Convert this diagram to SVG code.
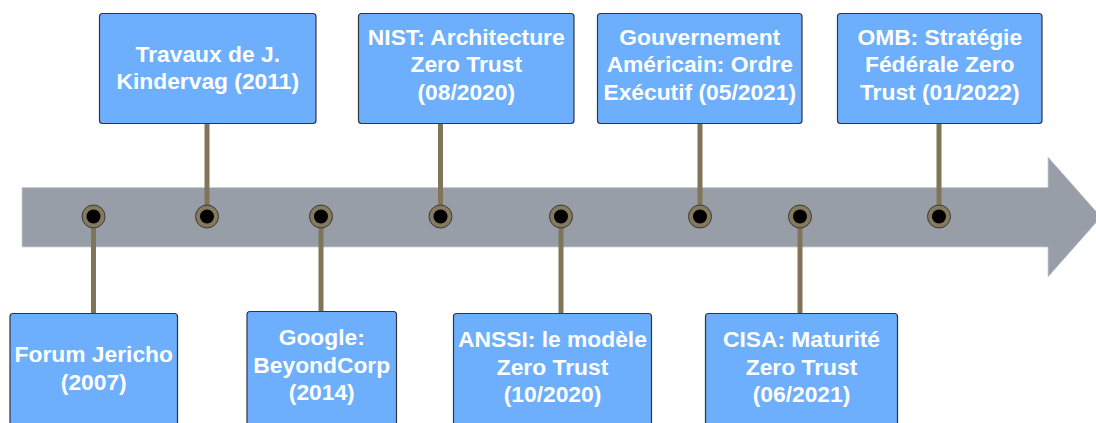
<svg xmlns="http://www.w3.org/2000/svg" width="1096" height="423" viewBox="0 0 1096 423">
<style>
.box{fill:#6daffd;stroke:#2f3640;stroke-width:1.2}
.t{font-family:"Liberation Sans",Arial,sans-serif;font-weight:bold;font-size:22.8px;fill:#ffffff;text-anchor:middle}
.ln{stroke:#817559;stroke-width:5;fill:none}
.ring{fill:#857a5f;stroke:#3a3a36;stroke-width:1}
.dot{fill:#000000}
</style>
<rect width="1096" height="423" fill="#ffffff"/>
<g id="arrow">
<polygon points="22,187.5 1048,187.5 1048,157 1101,217 1048,277 1048,247 22,247" fill="#989ea8" stroke="#c9ced4" stroke-width="0.8"/>
</g>
<g id="connectors">
<line class="ln" x1="93.5" y1="217" x2="93.5" y2="313"/>
<line class="ln" x1="207" y1="123" x2="207" y2="217"/>
<line class="ln" x1="321" y1="217" x2="321" y2="311"/>
<line class="ln" x1="440.5" y1="123" x2="440.5" y2="217"/>
<line class="ln" x1="561" y1="217" x2="561" y2="313"/>
<line class="ln" x1="700" y1="123" x2="700" y2="217"/>
<line class="ln" x1="800" y1="217" x2="800" y2="313"/>
<line class="ln" x1="939" y1="123" x2="939" y2="217"/>
</g>
<g id="markers">
<g><circle class="ring" cx="93.5" cy="216.5" r="11.5"/><circle class="dot" cx="93.5" cy="216.5" r="7"/></g>
<g><circle class="ring" cx="207" cy="216.5" r="11.5"/><circle class="dot" cx="207" cy="216.5" r="7"/></g>
<g><circle class="ring" cx="321" cy="216.5" r="11.5"/><circle class="dot" cx="321" cy="216.5" r="7"/></g>
<g><circle class="ring" cx="440.5" cy="216.5" r="11.5"/><circle class="dot" cx="440.5" cy="216.5" r="7"/></g>
<g><circle class="ring" cx="561" cy="216.5" r="11.5"/><circle class="dot" cx="561" cy="216.5" r="7"/></g>
<g><circle class="ring" cx="700" cy="216.5" r="11.5"/><circle class="dot" cx="700" cy="216.5" r="7"/></g>
<g><circle class="ring" cx="800" cy="216.5" r="11.5"/><circle class="dot" cx="800" cy="216.5" r="7"/></g>
<g><circle class="ring" cx="939" cy="216.5" r="11.5"/><circle class="dot" cx="939" cy="216.5" r="7"/></g>
</g>
<g id="forum">
<rect class="box" x="10" y="313.5" width="167.5" height="112" rx="3"/>
<text class="t" x="93.75" y="362">Forum Jericho</text>
<text class="t" x="93.75" y="389.5">(2007)</text>
</g>
<g id="travaux">
<rect class="box" x="99.5" y="13.5" width="216.5" height="110" rx="3"/>
<text class="t" x="207.75" y="61.5">Travaux de J.</text>
<text class="t" x="207.75" y="89">Kindervag (2011)</text>
</g>
<g id="google">
<rect class="box" x="247" y="311.5" width="149.5" height="114" rx="3"/>
<text class="t" x="321.75" y="345">Google:</text>
<text class="t" x="321.75" y="372.5">BeyondCorp</text>
<text class="t" x="321.75" y="400">(2014)</text>
</g>
<g id="nist">
<rect class="box" x="358.5" y="13.5" width="215.5" height="110" rx="3"/>
<text class="t" x="466.25" y="44.5">NIST: Architecture</text>
<text class="t" x="466.25" y="72">Zero Trust</text>
<text class="t" x="466.25" y="99.5">(08/2020)</text>
</g>
<g id="anssi">
<rect class="box" x="453.5" y="313.5" width="198" height="112" rx="3"/>
<text class="t" x="552.5" y="347">ANSSI: le modèle</text>
<text class="t" x="552.5" y="374.5">Zero Trust</text>
<text class="t" x="552.5" y="402">(10/2020)</text>
</g>
<g id="gouvernement">
<rect class="box" x="597.5" y="13.5" width="204.5" height="110" rx="3"/>
<text class="t" x="699.75" y="44.5">Gouvernement</text>
<text class="t" x="699.75" y="72">Américain: Ordre</text>
<text class="t" x="699.75" y="99.5">Exécutif (05/2021)</text>
</g>
<g id="cisa">
<rect class="box" x="705.5" y="313.5" width="192" height="112" rx="3"/>
<text class="t" x="801.5" y="347">CISA: Maturité</text>
<text class="t" x="801.5" y="374.5">Zero Trust</text>
<text class="t" x="801.5" y="402">(06/2021)</text>
</g>
<g id="omb">
<rect class="box" x="837.5" y="13.5" width="204.5" height="110" rx="3"/>
<text class="t" x="939.75" y="44.5">OMB: Stratégie</text>
<text class="t" x="939.75" y="72">Fédérale Zero</text>
<text class="t" x="939.75" y="99.5">Trust (01/2022)</text>
</g>
</svg>
